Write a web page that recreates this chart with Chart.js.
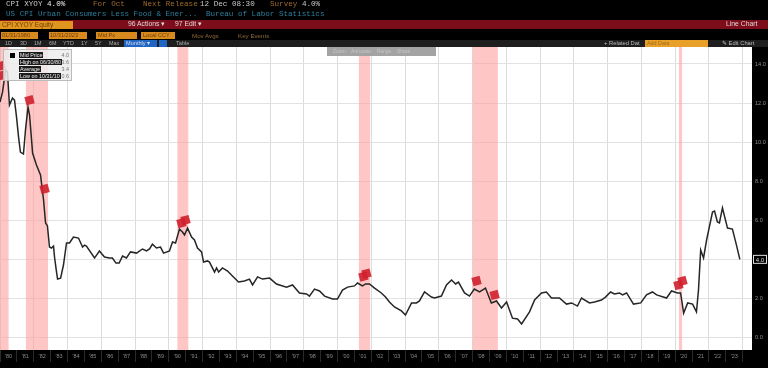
<!DOCTYPE html>
<html><head><meta charset="utf-8">
<script src="https://cdn.jsdelivr.net/npm/chart.js@4"></script>
<style>
html,body{margin:0;padding:0;background:#000;overflow:hidden}
#wrap{position:relative;width:768px;height:368px;background:#000;filter:blur(0.55px);font-family:"Liberation Mono","DejaVu Sans Mono",monospace}
canvas{position:absolute;left:0;top:0}
.t{position:absolute;white-space:pre;line-height:1}
.h{font-size:7.6px}
.box{position:absolute}
.s{font-family:"Liberation Sans",sans-serif;font-size:6.2px}
.lg{position:absolute;left:15px;background:#1a1a1a;color:#eee;font:5.4px/6px "Liberation Sans",sans-serif;padding:0 1px;height:6px;white-space:pre}
.lv{position:absolute;right:2px;color:#777;font:5.4px/6px "Liberation Sans",sans-serif}
</style></head><body>
<div id="wrap">
<canvas id="c" width="768" height="368"></canvas>
<!-- header -->
<div class="t h" style="left:6px;top:1px;color:#c8c8c8">CPI XYOY <span style="color:#eee">4.0%</span></div>
<div class="t h" style="left:93px;top:1px;color:#9c6a2c">For Oct</div>
<div class="t h" style="left:143px;top:1px;color:#9c6a2c">Next Release</div>
<div class="t h" style="left:200px;top:1px;color:#c8c8c8">12 Dec 08:30</div>
<div class="t h" style="left:270px;top:1px;color:#9c6a2c">Survey <span style="color:#c8c8c8">4.0%</span></div>
<div class="t h" style="left:6px;top:11px;color:#2c7f9c">US CPI Urban Consumers Less Food &amp; Ener...</div>
<div class="t h" style="left:206px;top:11px;color:#2c7f9c">Bureau of Labor Statistics</div>
<!-- red bar -->
<div class="box" style="left:0;top:20px;width:768px;height:9px;background:#7d0d1a"></div>
<div class="box" style="left:0;top:21px;width:73px;height:8px;background:#e0951f"></div>
<div class="t s" style="left:2px;top:22px;color:#6b3d08;font-size:6.6px">CPI XYOY Equity</div>
<div class="t s" style="left:128px;top:21px;color:#ddd;font-size:6.8px">96 Actions ▾</div>
<div class="t s" style="left:175px;top:21px;color:#ddd;font-size:6.8px">97 Edit ▾</div>
<div class="t s" style="left:726px;top:21px;color:#ddd;font-size:6.8px">Line Chart</div>
<!-- controls row -->
<div class="box" style="left:1px;top:32px;width:37px;height:7px;background:#d98a1e"></div>
<div class="t s" style="left:2px;top:33px;color:#6b3d08;font-size:5.6px">01/31/1980</div>
<div class="box" style="left:49px;top:32px;width:38px;height:7px;background:#d98a1e"></div>
<div class="t s" style="left:50px;top:33px;color:#6b3d08;font-size:5.6px">10/31/2023</div>
<div class="box" style="left:96px;top:32px;width:41px;height:7px;background:#d98a1e"></div>
<div class="t s" style="left:98px;top:33px;color:#6b3d08;font-size:5.6px">Mid Px</div>
<div class="box" style="left:141px;top:32px;width:34px;height:7px;background:#d98a1e"></div>
<div class="t s" style="left:143px;top:33px;color:#6b3d08;font-size:5.6px">Local CCY</div>
<div class="t s" style="left:192px;top:33px;color:#8f6a35">Mov Avgs</div>
<div class="t s" style="left:238px;top:33px;color:#8f6a35">Key Events</div>
<!-- tabs row -->
<div class="box" style="left:0;top:40px;width:768px;height:7px;background:#1e1e1e"></div>
<div class="t s" style="left:5px;top:41px;color:#aaa;font-size:5.4px">1D</div>
<div class="t s" style="left:20px;top:41px;color:#aaa;font-size:5.4px">3D</div>
<div class="t s" style="left:34px;top:41px;color:#aaa;font-size:5.4px">1M</div>
<div class="t s" style="left:49px;top:41px;color:#aaa;font-size:5.4px">6M</div>
<div class="t s" style="left:63px;top:41px;color:#aaa;font-size:5.4px">YTD</div>
<div class="t s" style="left:81px;top:41px;color:#aaa;font-size:5.4px">1Y</div>
<div class="t s" style="left:95px;top:41px;color:#aaa;font-size:5.4px">5Y</div>
<div class="t s" style="left:109px;top:41px;color:#aaa;font-size:5.4px">Max</div>
<div class="box" style="left:124px;top:40px;width:33px;height:7px;background:#1f66c4"></div>
<div class="t s" style="left:126px;top:41px;color:#dde;font-size:5.6px">Monthly ▾</div>
<div class="box" style="left:159px;top:40px;width:8px;height:7px;background:#1f66c4"></div>
<div class="t s" style="left:176px;top:41px;color:#aaa;font-size:5.6px">Table</div>
<div class="t s" style="left:604px;top:41px;color:#bbb;font-size:5.8px">+ Related Dat</div>
<div class="box" style="left:645px;top:40px;width:63px;height:7px;background:#e8a028"></div>
<div class="t s" style="left:647px;top:41px;color:#9c6a18;font-size:5.4px">Add Data</div>
<div class="t s" style="left:722px;top:41px;color:#bbb;font-size:5.8px">✎ Edit Chart</div>
<!-- toolbar over chart -->
<div class="box" style="left:327px;top:47px;width:109px;height:9px;background:#a3a3a3"></div>
<div class="t s" style="left:333px;top:49px;color:#c4c4c4;font-size:5px">Zoom    Annotate    Range    Share</div>
<!-- legend -->
<div class="box" style="left:3px;top:49px;width:69px;height:32px;background:rgba(236,236,236,.85);border:1px solid #bbb;box-sizing:border-box">
  <div class="box" style="left:6px;top:3px;width:5px;height:5px;background:#000"></div>
  <div class="lg" style="top:2px">Mid Price</div><div class="lv" style="top:2px">4.0</div>
  <div class="lg" style="top:9px">High on 06/30/80</div><div class="lv" style="top:9px">13.6</div>
  <div class="lg" style="top:16px">Average</div><div class="lv" style="top:16px">3.4</div>
  <div class="lg" style="top:23px">Low on 10/31/10</div><div class="lv" style="top:23px">0.6</div>
</div>
</div>
<script>
const axisYears=[1980,1981,1982,1983,1984,1985,1986,1987,1988,1989,1990,1991,1992,1993,1994,1995,1996,1997,1998,1999,2000,2001,2002,2003,2004,2005,2006,2007,2008,2009,2010,2011,2012,2013,2014,2015,2016,2017,2018,2019,2020,2021,2022,2023];
const valueTicks=[0,2,4,6,8,10,12,14];
const dates=[1980.00,1980.15,1980.33,1980.44,1980.56,1980.74,1980.86,1980.98,1981.10,1981.21,1981.39,1981.51,1981.66,1981.75,1981.87,1981.93,1982.16,1982.40,1982.58,1982.70,1982.81,1982.93,1983.05,1983.17,1983.23,1983.35,1983.41,1983.59,1983.76,1983.94,1984.12,1984.35,1984.65,1984.89,1985.01,1985.12,1985.60,1985.72,1985.89,1986.19,1986.48,1986.66,1986.87,1987.06,1987.26,1987.49,1987.73,1988.09,1988.44,1988.68,1988.86,1989.03,1989.27,1989.51,1989.69,1990.04,1990.22,1990.40,1990.63,1990.81,1990.93,1991.11,1991.35,1991.52,1991.70,1991.94,1992.06,1992.29,1992.41,1992.71,1992.83,1992.95,1993.18,1993.48,1993.77,1994.13,1994.48,1994.78,1994.96,1995.26,1995.55,1995.97,1996.38,1996.97,1997.33,1997.74,1998.16,1998.33,1998.63,1998.93,1999.23,1999.70,1999.99,2000.29,2000.59,2001.00,2001.18,2001.47,2001.66,2001.89,2002.19,2002.59,2002.84,2003.07,2003.37,2003.78,2004.02,2004.38,2004.67,2004.85,2005.15,2005.56,2005.74,2006.15,2006.45,2006.75,2006.99,2007.16,2007.52,2007.81,2008.10,2008.41,2008.76,2009.11,2009.41,2009.71,2010.01,2010.36,2010.66,2010.90,2011.37,2011.67,2012.08,2012.37,2012.67,2013.14,2013.56,2013.86,2014.21,2014.45,2014.92,2015.22,2015.63,2015.87,2016.17,2016.40,2016.70,2016.88,2017.12,2017.53,2017.96,2018.30,2018.65,2018.90,2019.49,2019.78,2020.14,2020.32,2020.50,2020.74,2021.03,2021.26,2021.38,2021.51,2021.68,2021.86,2022.21,2022.33,2022.50,2022.62,2022.80,2023.10,2023.39,2023.63,2023.83];
const cpiValues=[12.05,12.56,13.69,13.59,11.90,12.26,12.15,11.28,10.26,9.49,9.39,10.62,11.80,11.39,10.11,9.44,8.83,8.32,7.04,5.86,5.71,4.63,4.58,4.68,4.12,3.35,2.99,3.04,3.71,4.84,4.84,5.14,5.09,4.63,4.73,4.68,4.07,4.22,4.43,4.12,4.07,4.07,3.81,3.81,4.17,4.07,4.38,4.32,4.53,4.43,4.53,4.78,4.58,4.63,4.32,4.43,4.89,4.84,5.55,5.40,5.25,5.60,5.14,4.99,4.58,4.38,3.86,3.92,3.86,3.35,3.56,3.35,3.56,3.40,3.15,2.84,2.89,2.99,2.69,3.10,2.99,3.04,2.74,2.58,2.69,2.28,2.23,2.12,2.48,2.38,2.12,1.97,1.97,2.43,2.58,2.64,2.79,2.64,2.74,2.74,2.53,2.28,2.07,1.82,1.56,1.36,1.15,1.77,1.77,1.87,2.33,2.07,2.02,2.12,2.69,2.94,2.74,2.84,2.28,2.12,2.48,2.33,2.53,1.77,1.87,1.51,1.82,0.99,0.95,0.69,1.31,1.92,2.28,2.33,2.02,2.02,1.71,1.77,1.61,2.02,1.77,1.82,1.92,2.07,2.33,2.23,2.28,2.18,2.28,1.71,1.77,2.18,2.33,2.18,2.02,2.38,2.28,2.28,1.25,1.77,1.71,1.31,2.43,4.48,4.07,4.99,6.42,6.47,5.91,5.86,6.63,5.60,5.55,4.73,4.00];
const recessionStart=[1980.00,1981.52,1990.50,2001.25,2007.99,2020.22];
const recessionEnd=[1980.52,1982.85,1991.17,2001.94,2009.50,2020.42];
const eventDates=[1980.03,1980.03,1981.75,1982.64,1990.75,1990.99,2001.53,2001.71,2008.23,2009.30,2020.19,2020.43];
const eventValues=[13.9,13.4,12.15,7.6,5.86,6.01,3.12,3.27,2.89,2.18,2.69,2.89];

const yMin=-0.64,yMax=14.87,xMin=1980,xMax=2024.55;
const bands=recessionStart.map((s,i)=>({
  type:'line',order:5,pointRadius:0,borderWidth:0,showLine:true,
  data:[{x:s,y:yMax},{x:recessionEnd[i],y:yMax}],
  backgroundColor:'rgba(255,160,160,0.6)',
  fill:{target:{value:yMin}}
}));
const plugins=[{
  id:'bg',
  beforeDraw(ch){const a=ch.chartArea,g=ch.ctx;g.save();g.fillStyle='#fff';g.fillRect(a.left,a.top,a.width,a.height);g.restore();},
  afterDraw(ch){
    const g=ch.ctx,y=ch.scales.y.getPixelForValue(cpiValues[cpiValues.length-1]);
    g.save();g.fillStyle='#000';g.strokeStyle='#ddd';g.lineWidth=1;
    g.fillRect(753.5,y-4,13,8);g.strokeRect(753.5,y-4,13,8);
    g.fillStyle='#ddd';g.font='6px "Liberation Sans"';g.textAlign='center';g.textBaseline='middle';
    g.fillText(cpiValues[cpiValues.length-1].toFixed(1),760,y+.5);g.restore();
  }
}];
new Chart(document.getElementById('c'),{
  type:'line',
  data:{datasets:[
    ...bands,
    {type:'line',order:2,data:dates.map((d,i)=>({x:d,y:cpiValues[i]})),borderColor:'#262626',borderWidth:1.5,pointRadius:0,tension:0,fill:false},
    {type:'scatter',order:1,data:eventDates.map((d,i)=>({x:d,y:eventValues[i]})),pointStyle:'rect',rotation:-15,pointRadius:6,backgroundColor:'rgba(208,32,44,.9)',borderWidth:0}
  ]},
  plugins,
  options:{
    responsive:false,animation:false,events:[],
    layout:{autoPadding:false,padding:{top:47,left:0,right:0,bottom:0}},
    plugins:{legend:{display:false},tooltip:{enabled:false}},
    scales:{
      x:{type:'linear',position:'bottom',min:xMin,max:xMax,
        afterFit(s){s.height=18;s.paddingLeft=0;s.paddingRight=0;},
        border:{display:false},
        grid:{color(c){const v=c.tick.value;return (Math.abs(v%2)<1e-6)?'#dcdcdc':'rgba(0,0,0,0)';},
              tickColor(c){const v=c.tick.value;return (Math.abs(v%1)<1e-6)?'#2a2a2a':'rgba(0,0,0,0)';},tickLength:12,lineWidth:1},
        ticks:{stepSize:0.5,includeBounds:false,autoSkip:false,maxRotation:0,minRotation:0,padding:-9,color:'#8a8a8a',
          font:{family:'"Liberation Sans"',size:5.5},
          callback(v){const yr=Math.floor(v);return (Math.abs(v-yr-.5)<1e-6&&axisYears.includes(yr))?"'"+String(yr).slice(2):'';}}
      },
      y:{type:'linear',position:'right',min:yMin,max:yMax,
        afterFit(s){s.width=16;s.paddingTop=0;s.paddingBottom=0;},
        border:{display:false},
        grid:{color:'#e2e2e2',drawTicks:false,lineWidth:1},
        afterBuildTicks(s){s.ticks=valueTicks.map(v=>({value:v}));},
        ticks:{padding:3,color:'#8a8a8a',font:{family:'"Liberation Sans"',size:5.6},callback(v){return Number(v).toFixed(1);}}
      }
    }
  }
});
</script>
</body></html>
